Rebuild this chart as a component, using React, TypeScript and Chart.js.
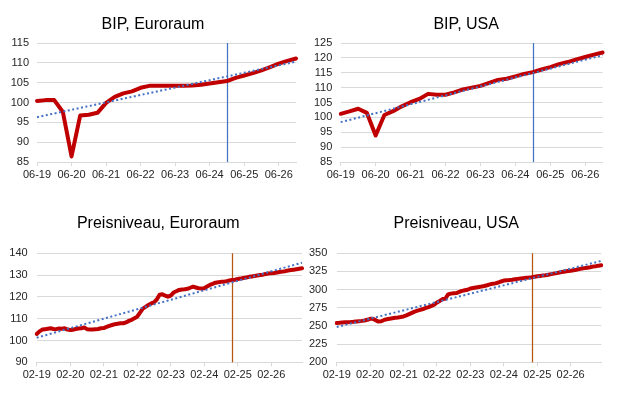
import React, { useEffect, useRef } from 'react';
import { Chart, registerables } from 'chart.js';

Chart.register(...registerables);

function makeLabels(startMonth: number, startYear: number, count: number, step: number): string[] {
  const out: string[] = [];
  let m = startMonth;
  let y = startYear;
  for (let i = 0; i < count; i++) {
    out.push(String(m).padStart(2, '0') + '-' + String(y % 100).padStart(2, '0'));
    m += step;
    while (m > 12) { m -= 12; y++; }
  }
  return out;
}

// ---- Data ----
const quarterLabels = makeLabels(6, 2019, 31, 3); // 06-19 ... 12-26
const monthLabels = makeLabels(2, 2019, 96, 1);   // 02-19 ... 01-27

const bipEuro = [100.4, 100.6, 100.6, 97.6, 86.4, 96.7, 96.9, 97.4, 99.9, 101.4, 102.3, 102.8, 103.7, 104.2, 104.2, 104.2,
  104.2, 104.2, 104.3, 104.5, 104.8, 105.1, 105.4, 106.2, 106.8, 107.4, 108.1, 108.9, 109.8, 110.5, 111.1];
const bipUsa = [101.2, 102.0, 102.9, 101.5, 93.9, 100.8, 102.1, 103.7, 105.1, 106.2, 107.9, 107.6, 107.6, 108.4, 109.4, 110.0,
  110.6, 111.6, 112.6, 113.0, 113.8, 114.6, 115.2, 116.1, 116.9, 117.9, 118.6, 119.5, 120.3, 121.1, 121.8];
const trendBipEuro = [96.3, 110.3];
const trendBipUsa = [98.4, 120.9];

const priceEuro = [
  103.0, 104.2, 105.0, 105.2, 105.4, 105.6, 105.3, 105.2, 105.5, 105.4, 105.6,
  105.0, 104.8, 104.9, 105.3, 105.5, 105.6, 106.0, 105.2, 105.1, 105.1, 105.2, 105.3,
  105.6, 105.7, 106.2, 106.7, 107.1, 107.5, 107.7, 107.9, 107.9, 108.3, 109.0, 109.5,
  110.2, 110.9, 112.8, 114.6, 115.4, 116.3, 117.0, 117.5, 118.8, 121.0, 121.2, 120.6,
  120.1, 120.6, 122.0, 122.6, 123.2, 123.4, 123.5, 123.7, 124.2, 124.7, 124.3, 124.0,
  123.9, 124.0, 124.8, 125.5, 126.0, 126.5, 126.7, 126.9, 127.0, 127.2, 127.5, 127.8,
  127.9, 128.2, 128.4, 128.7, 128.9, 129.2, 129.4, 129.6, 129.8, 130.0, 130.2, 130.5,
  130.7, 130.9, 131.0, 131.2, 131.4, 131.6, 131.8, 132.1, 132.3, 132.5, 132.7, 132.9,
  133.1];
const priceUsa = [
  254.0, 254.3, 254.8, 255.0, 255.2, 255.4, 255.7, 256.2, 256.6, 257.0, 257.6,
  258.5, 259.9, 259.8, 258.0, 256.0, 256.5, 258.3, 259.3, 260.0, 260.6, 261.2, 261.7,
  262.3, 263.1, 264.5, 266.2, 268.0, 269.8, 271.0, 272.2, 273.3, 274.8, 276.0, 277.5,
  279.3, 282.3, 284.5, 287.0, 287.5, 293.5, 294.5, 295.0, 295.3, 296.8, 298.3, 299.2,
  299.8, 301.5, 302.3, 303.0, 303.6, 304.2, 305.0, 306.0, 307.2, 308.0, 308.6, 309.8,
  311.2, 312.5, 313.0, 313.3, 313.7, 314.3, 314.8, 315.3, 315.8, 316.2, 316.6, 317.1,
  317.7, 318.3, 318.9, 319.4, 319.9, 320.6, 321.3, 322.0, 322.7, 323.6, 324.4, 325.0,
  325.5, 326.0, 326.7, 327.4, 328.2, 329.0, 329.6, 330.2, 330.9, 331.7, 332.3, 333.0,
  333.6];
const trendPriceEuro = [101.3, 135.7];
const trendPriceUsa = [248.5, 339.5];

const forecastQuarter = '12-24';
const forecastMonth = '12-24';

// ---- Styles ----
const FONT = "'Liberation Sans', Arial, sans-serif";
const GRID = '#D9D9D9';
const TICK = '#262626';
const RED = '#C00000';
const TREND = '#4472C4';

function trendSeries(n: number, ends: number[]): (number | null)[] {
  const arr: (number | null)[] = [];
  for (let i = 0; i < n; i++) arr.push(i === 0 ? ends[0] : i === n - 1 ? ends[1] : null);
  return arr;
}

const vlinePlugin = {
  id: 'vline',
  beforeDatasetsDraw(chart: any, _args: any, opts: any) {
    const labels = chart.data.labels as string[];
    const idx = labels.indexOf(opts.label);
    if (idx < 0) return;
    const x = Math.round(chart.scales.x.getPixelForValue(idx)) + 0.5;
    const { top, bottom } = chart.chartArea;
    const ctx = chart.ctx;
    ctx.save();
    ctx.strokeStyle = opts.color;
    ctx.lineWidth = 1.25;
    ctx.beginPath();
    ctx.moveTo(x, top);
    ctx.lineTo(x, bottom);
    ctx.stroke();
    ctx.restore();
  },
};

type PanelProps = {
  left: number; top: number; width: number; height: number;
  padR: number; padTop: number; yWidth: number; xHeight: number;
  labels: string[]; values: number[]; trend: number[];
  yMin: number; yMax: number; yStep: number; every: number;
  marker: string; markerColor: string; yTickPad: number;
};

function Panel(p: PanelProps) {
  const ref = useRef<HTMLCanvasElement | null>(null);
  useEffect(() => {
    if (!ref.current) return;
    const chart = new Chart(ref.current, {
      type: 'line',
      data: {
        labels: p.labels,
        datasets: [
          {
            data: trendSeries(p.labels.length, p.trend),
            borderColor: TREND,
            borderWidth: 2,
            borderDash: [2, 2.5],
            pointRadius: 0,
            spanGaps: true,
            fill: false,
          },
          {
            data: p.values,
            borderColor: RED,
            borderWidth: 4,
            pointRadius: 0,
            tension: 0,
            borderJoinStyle: 'round',
            borderCapStyle: 'round',
            fill: false,
          },
        ],
      },
      options: {
        responsive: false,
        animation: false,
        devicePixelRatio: 1,
        events: [],
        layout: { padding: { left: 0, right: p.padR, top: p.padTop, bottom: 0 } },
        plugins: {
          legend: { display: false },
          tooltip: { enabled: false },
          title: { display: false },
          vline: { label: p.marker, color: p.markerColor },
        } as any,
        scales: {
          x: {
            type: 'category',
            offset: false,
            grid: {
              drawOnChartArea: false,
              drawTicks: true,
              tickLength: 4,
              lineWidth: 1,
              color: (c: any) => (c.index % p.every === 0 ? GRID : 'rgba(0,0,0,0)'),
            },
            border: { display: true, color: GRID, width: 1 },
            ticks: {
              autoSkip: false,
              maxRotation: 0,
              minRotation: 0,
              padding: 2,
              color: TICK,
              font: { family: FONT, size: 11 },
              callback: (_v: any, i: number) => (i % p.every === 0 ? p.labels[i] : ''),
            },
            afterFit: (s: any) => { s.height = p.xHeight; },
          },
          y: {
            min: p.yMin,
            max: p.yMax,
            ticks: {
              stepSize: p.yStep,
              autoSkip: false,
              padding: p.yTickPad,
              color: TICK,
              font: { family: FONT, size: 11 },
            },
            grid: { color: GRID, drawTicks: false, lineWidth: 1 },
            border: { display: false },
            afterFit: (s: any) => { s.width = p.yWidth; },
          },
        },
      } as any,
      plugins: [vlinePlugin],
    });
    return () => chart.destroy();
  }, []);
  return (
    <div style={{ position: 'absolute', left: p.left, top: p.top, width: p.width, height: p.height }}>
      <canvas ref={ref} width={p.width} height={p.height} style={{ display: 'block' }} />
    </div>
  );
}

function Title({ text, cx, top }: { text: string; cx: number; top: number }) {
  return (
    <div
      style={{
        position: 'absolute', left: cx - 150, top, width: 300, height: 19.2,
        lineHeight: '19.2px', fontSize: 16, fontFamily: FONT, color: '#000',
        textAlign: 'center', whiteSpace: 'nowrap',
      }}
    >
      {text}
    </div>
  );
}

export default function App() {
  return (
    <div style={{ position: 'absolute', left: 0, top: 0, width: 628, height: 399, background: '#fff', overflow: 'hidden' }}>
      <Panel left={0} top={0} width={314} height={200} padR={18} padTop={43} yWidth={37} xHeight={38}
        labels={quarterLabels} values={bipEuro} trend={trendBipEuro} yMin={85} yMax={115} yStep={5} every={4}
        marker={forecastQuarter} markerColor="#4472C4" yTickPad={8} />
      <Panel left={305} top={0} width={323} height={200} padR={25.3} padTop={43} yWidth={35.7} xHeight={38}
        labels={quarterLabels} values={bipUsa} trend={trendBipUsa} yMin={85} yMax={125} yStep={5} every={4}
        marker={forecastQuarter} markerColor="#4472C4" yTickPad={8.4} />
      <Panel left={0} top={200} width={314} height={199} padR={12} padTop={53.3} yWidth={36.7} xHeight={36.7}
        labels={monthLabels} values={priceEuro} trend={trendPriceEuro} yMin={90} yMax={140} yStep={10} every={12}
        marker={forecastMonth} markerColor="#B4560F" yTickPad={9} />
      <Panel left={305} top={200} width={323} height={199} padR={26.7} padTop={53.3} yWidth={31.7} xHeight={36.7}
        labels={monthLabels} values={priceUsa} trend={trendPriceUsa} yMin={200} yMax={350} yStep={25} every={12}
        marker={forecastMonth} markerColor="#B4560F" yTickPad={9.4} />
      <Title text="BIP, Euroraum" cx={153} top={14} />
      <Title text="BIP, USA" cx={466.2} top={14} />
      <Title text="Preisniveau, Euroraum" cx={158.3} top={213.4} />
      <Title text="Preisniveau, USA" cx={456.3} top={213.4} />
    </div>
  );
}
